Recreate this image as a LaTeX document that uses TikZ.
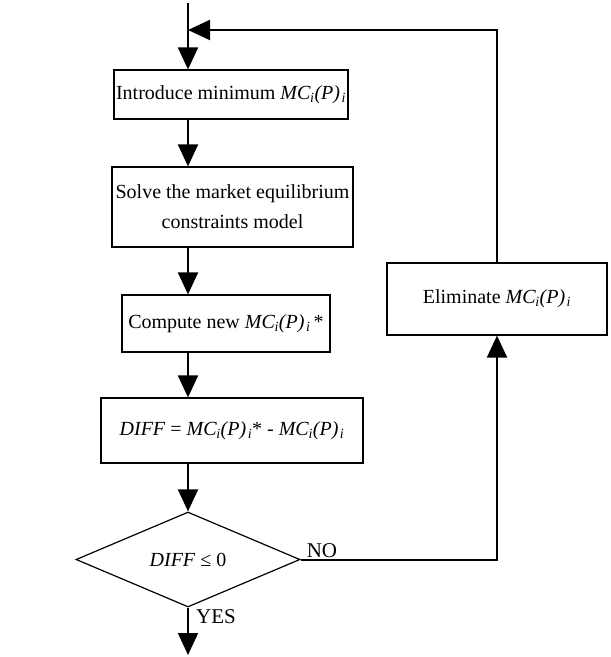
\documentclass[tikz,border=0pt]{standalone}
\usepackage{fontspec}
\setmainfont{Liberation Serif}
\usetikzlibrary{arrows.meta,shapes.geometric,positioning}

\newcommand{\mcpi}{\textit{MC}\kern-0.5pt\textsubscript{\textit{i}}\textit{(P)}\kern1.5pt\textsubscript{\textit{i}}}

\tikzset{
  stepbox/.style={draw,line width=1.2pt,rectangle,inner sep=0pt,align=center,font=\fontsize{20}{30}\selectfont},
  testbox/.style={draw,line width=1.2pt,diamond,aspect=2.36,inner sep=0pt,font=\fontsize{20}{30}\selectfont},
  flow/.style={line width=2pt,-{Triangle[width=20pt,length=22pt]}},
  answer/.style={font=\fontsize{21}{24}\selectfont,inner sep=2pt}
}

\begin{document}
\begin{tikzpicture}[x=1pt,y=-1pt]
\useasboundingbox (0,0) rectangle (611,657);

\node[stepbox,minimum width=234pt,minimum height=49pt] (intro) at (231,94.5) {Introduce minimum \mcpi};
\node[stepbox,minimum width=241pt,minimum height=80pt] (solve) at (232.5,207) {Solve the market equilibrium\\constraints model};
\node[stepbox,minimum width=208pt,minimum height=57pt] (compute) at (226,323.5) {Compute new \mcpi\,*};
\node[stepbox,minimum width=262pt,minimum height=65pt] (diff) at (232,430.5) {\textit{DIFF} = \mcpi* - \mcpi};
\node[testbox,minimum width=224pt,minimum height=95pt] (check) at (188,559.5) {\textit{DIFF} ≤ 0};
\node[stepbox,minimum width=220pt,minimum height=72pt] (elim) at (497,299) {Eliminate \mcpi};

\coordinate (start) at (188,3);
\coordinate (back) at (188,30);
\coordinate (stop) at (188,655);

\draw[flow] (start) -- (start |- intro.north);
\draw[flow] (intro.south -| start) -- (solve.north -| start);
\draw[flow] (solve.south -| start) -- (compute.north -| start);
\draw[flow] (compute.south -| start) -- (diff.north -| start);
\draw[flow] (diff.south -| start) -- (check.north);
\draw[flow] (check.south) -- (stop);
\draw[flow] (check.east) -| (elim.south);
\draw[flow] (elim.north) |- (back);

\node[answer,anchor=south west,xshift=4pt] (no) at (check.east) {NO};
\node[answer,anchor=north west,xshift=6pt] (yes) at (check.south) {YES};

\end{tikzpicture}
\end{document}
